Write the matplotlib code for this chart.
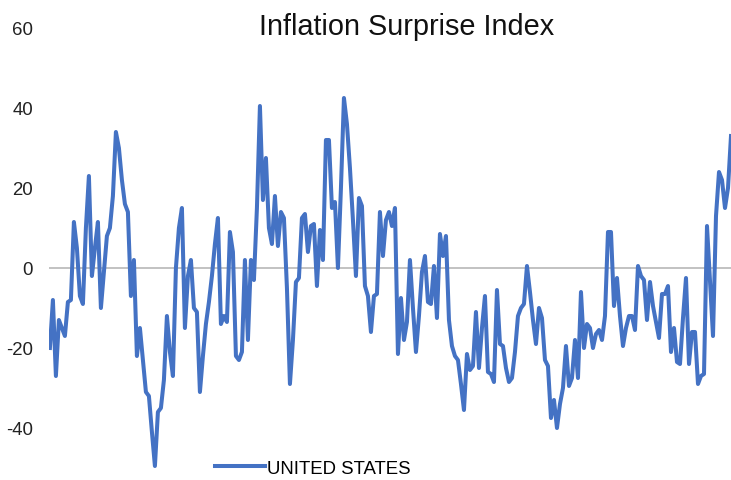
import matplotlib
matplotlib.use("Agg")
import matplotlib.pyplot as plt
import numpy as np

plt.rcParams['font.family'] = ['Liberation Sans', 'DejaVu Sans']

## -------------------- Data
series_name = "UNITED STATES"
title = "Inflation Surprise Index"
yticks = [-40, -20, 0, 20, 40, 60]
values = [
    -20, -8, -27, -13, -15, -17, -8.5, -8, 11.5, 5,
    -7, -9, 10, 23, -2, 5, 11.5, -10, -1, 8,
    10, 18, 34, 30, 22, 16, 14, -7, 2, -22,
    -15, -23, -31, -32, -41, -49.5, -36, -35, -28, -12,
    -21, -27, 0, 10, 15, -15, -2, 2, -10, -11,
    -31, -22, -14, -8.5, -2, 6, 12.5, -14, -12, -13.5,
    9, 4, -22, -23, -21, 2, -18, 2, -3, 15,
    40.5, 17, 27.5, 10, 6, 18, 5.5, 14, 12.5, -5,
    -29, -18, -3.5, -2.5, 12.5, 13.5, 4, 10.5, 11, -4.5,
    9.5, 2, 32, 32, 15, 16.5, 0, 20, 42.5, 36,
    25, 12, -2, 17.5, 15.5, -4.5, -7, -16, -7, -6.5,
    14, 3, 12, 14, 10.5, 15, -21.5, -7.5, -18, -13.5,
    2, -10, -21, -12, -1, 3, -8.5, -9, 0.5, -12.5,
    8.5, 3, 8, -13, -19.5, -22, -23, -29, -35.5, -21.5,
    -25.5, -24.5, -11, -25, -15, -7, -26, -26.5, -28.5, -5.5,
    -19, -19.5, -25, -28.5, -27.5, -21, -12, -10, -9, 0.5,
    -6, -13, -19, -10, -12.5, -23, -24.5, -37.5, -33, -40,
    -34, -30, -19.5, -29.5, -27.5, -18, -27.5, -6, -20, -14,
    -15, -20, -16.5, -15.5, -18, -12, 9, 9, -9.5, -2.5,
    -12, -19.5, -15, -12, -12, -15.5, 0.5, -2, -3, -13,
    -3.5, -9.5, -13.5, -17.5, -6.5, -6.5, -4.5, -21, -15, -23.5,
    -24, -12.5, -2.5, -24, -16, -16, -29, -27, -26.5, 10.5,
    -3, -17, 13, 24, 22, 15, 20, 33,
]
periods = np.arange(len(values))

## -------------------- Figure
W, H = 731, 481
fig = plt.figure(figsize=(W / 100, H / 100), dpi=100)
ax = fig.add_axes([49 / W, 0, (W - 49) / W, 1 - 29 / H])

ax.axhline(0, color='#b7b7b7', lw=1.2, zorder=1)
ax.plot(periods, values, color='#4472c4', lw=2.9, solid_joinstyle='round',
        label=series_name, zorder=2)

ax.set_xlim(-0.3, len(values) - 1)
ax.set_ylim(-53, 60)
ax.set_yticks(yticks)
ax.set_yticklabels([str(t) for t in yticks])
ax.set_xticks([])
ax.tick_params(axis='y', length=0, pad=11.5, labelsize=13.4, labelcolor='#222222')
for s in ax.spines.values():
    s.set_visible(False)

fig.text(407 / W, 1 - 27 / H, title, fontsize=20.8, color='#111111',
         ha='center', va='center')

fig.legend(loc='center left', bbox_to_anchor=(215 / W, 1 - 469 / H),
           frameon=False, fontsize=13.4, handlelength=2.7, handletextpad=0.1,
           borderpad=0, borderaxespad=0)

fig.savefig('out.png', dpi=100)
